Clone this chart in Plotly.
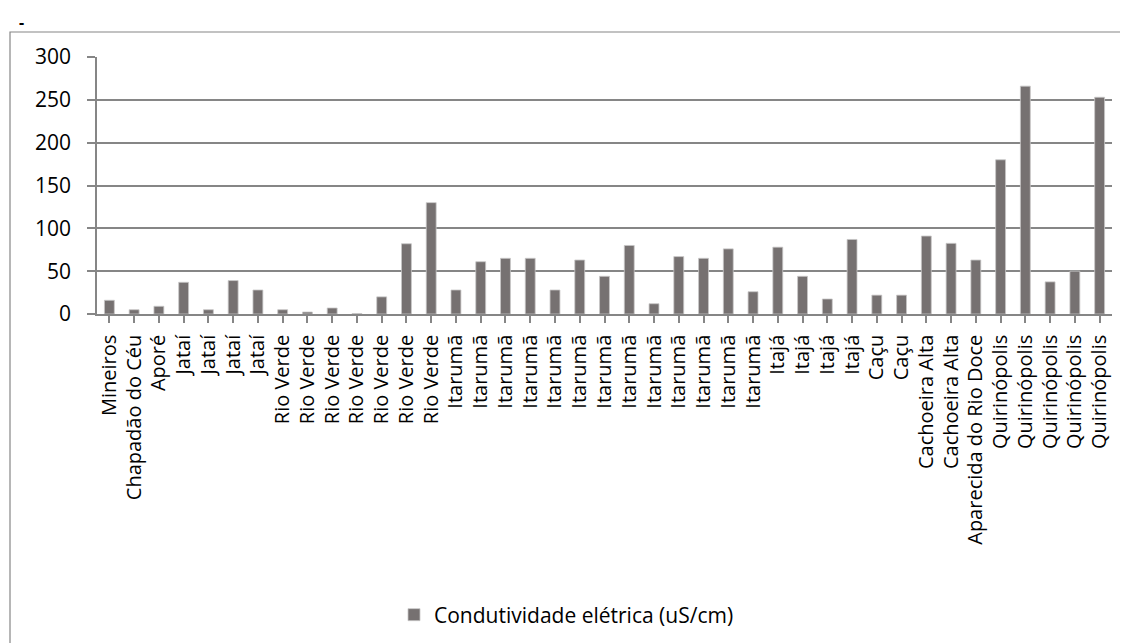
import plotly.graph_objects as go

categories = ["Mineiros", "Chapadão do Céu", "Aporé", "Jataí", "Jataí", "Jataí", "Jataí",
              "Rio Verde", "Rio Verde", "Rio Verde", "Rio Verde", "Rio Verde", "Rio Verde", "Rio Verde",
              "Itarumã", "Itarumã", "Itarumã", "Itarumã", "Itarumã", "Itarumã", "Itarumã",
              "Itarumã", "Itarumã", "Itarumã", "Itarumã", "Itarumã", "Itarumã",
              "Itajá", "Itajá", "Itajá", "Itajá", "Caçu", "Caçu", "Cachoeira Alta", "Cachoeira Alta",
              "Aparecida do Rio Doce", "Quirinópolis", "Quirinópolis", "Quirinópolis", "Quirinópolis",
              "Quirinópolis"]
values = [16, 5, 9, 37, 5, 39, 28,
          5, 2.3, 7, 0.5, 20, 82, 130,
          28, 61, 65, 65, 28, 63, 44, 80, 12, 67, 65, 76, 26,
          78, 44, 17.5, 87, 22, 22, 91, 82.5, 63,
          180, 266, 37.5, 50, 253]
series_name = "Condutividade elétrica (uS/cm)"
y_ticks = [0, 50, 100, 150, 200, 250, 300]

idx = list(range(len(categories)))

FONT = "Open Sans"
GRAY = "#868686"
OFF = 8  # page body margin

fig = go.Figure()
fig.add_trace(go.Bar(
    x=idx, y=values, name=series_name,
    marker=dict(color="#767171", line=dict(color="#c8c6c6", width=0.8)),
    showlegend=True,
))

W, H = 1128, 643
L, R, T, B = 89, 24, 49, 337
pw = W - L - R
ph = H - T - B

def px_x(sx):
    return (sx - OFF - L) / pw

def px_y(sy):
    return (H - B - (sy - OFF)) / ph

fig.update_layout(
    width=W, height=H,
    margin=dict(l=L, r=R, t=T, b=B),
    paper_bgcolor="white", plot_bgcolor="white",
    bargap=0.6,
    font=dict(family=FONT, color="black"),
    xaxis=dict(
        tickmode="array", tickvals=idx, ticktext=categories,
        tickangle=-90, tickfont=dict(size=20, family=FONT, color="black"),
        range=[-0.5, len(categories) - 0.5],
        showline=True, linecolor=GRAY, linewidth=1.5,
        ticks="outside", ticklen=7, tickcolor=GRAY, tickwidth=1.5,
        tickson="boundaries", showgrid=False, zeroline=False,
        ticklabelstandoff=4,
    ),
    yaxis=dict(
        range=[0, 300], tickvals=y_ticks,
        tickfont=dict(size=21, family=FONT, color="black"),
        showline=True, linecolor=GRAY, linewidth=1.5,
        ticks="outside", ticklen=8, tickcolor=GRAY, tickwidth=1.5,
        showgrid=True, gridcolor=GRAY, gridwidth=1.5, zeroline=False,
        ticklabelstandoff=12,
    ),
    legend=dict(
        orientation="h", x=px_x(394), xanchor="left",
        y=px_y(615), yanchor="middle",
        font=dict(size=21, family=FONT, color="black"),
        bgcolor="rgba(0,0,0,0)",
    ),
    shapes=[dict(
        type="rect", xref="paper", yref="paper",
        x0=px_x(10), x1=px_x(1150), y0=px_y(32), y1=px_y(670),
        line=dict(color=GRAY, width=1.2), fillcolor="rgba(0,0,0,0)", layer="below",
    )],
    annotations=[dict(
        text="<b>-</b>", xref="paper", yref="paper", x=px_x(17), y=px_y(8.5),
        xanchor="left", yanchor="top", showarrow=False,
        font=dict(size=16, family=FONT, color="black"),
    )],
)

fig.write_html("out.html")
